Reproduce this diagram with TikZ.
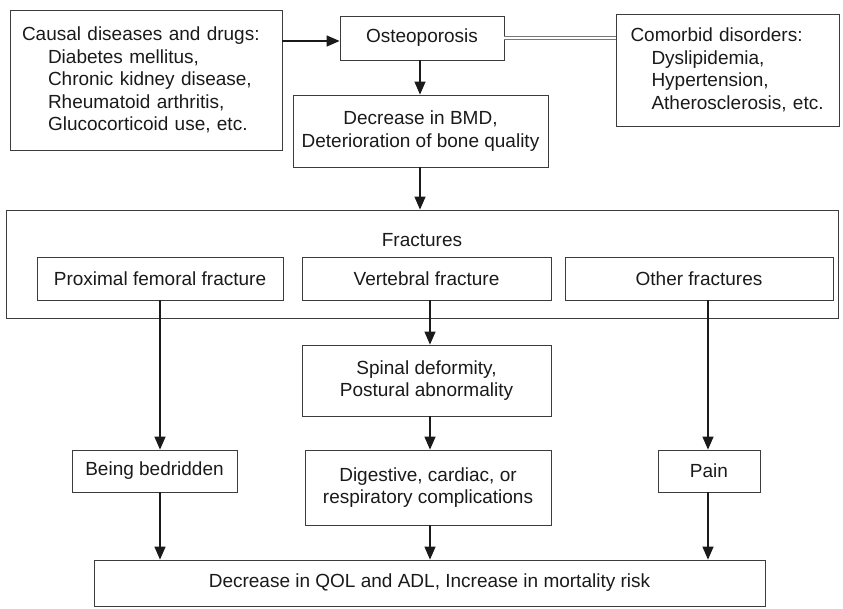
\documentclass[tikz,border=0pt]{standalone}
\usepackage{fontspec}
\setmainfont{Liberation Sans}
\usetikzlibrary{positioning, arrows.meta, calc}
\definecolor{ink}{HTML}{1a1a1a}
\definecolor{edge}{HTML}{3c3c3c}

\begin{document}
\begin{tikzpicture}[x=1pt, y=-1pt,
  font=\fontsize{19}{22.5}\selectfont,
  box/.style={rectangle, draw=edge, line width=0.8pt, inner sep=0pt, align=center, text=ink},
  arr/.style={-{Triangle[length=13pt, width=11pt]}, line width=1.3pt, draw=ink}]
  \useasboundingbox (0,0) rectangle (843,608);

  % Top row
  \node[box, minimum width=272pt, minimum height=140pt, align=left, text width=248pt] (causal) at (146,80)
    {Causal diseases and drugs:\\\hspace*{26pt}Diabetes mellitus,\\\hspace*{26pt}Chronic kidney disease,\\\hspace*{26pt}Rheumatoid arthritis,\\\hspace*{26pt}Glucocorticoid use, etc.};
  \node[box, minimum width=164pt, minimum height=44pt] (osteo) at (422,38) {Osteoporosis};
  \node[box, minimum width=223pt, minimum height=112pt, align=left, text width=194pt] (comorbid) at (727.5,70)
    {Comorbid disorders:\\\hspace*{21pt}Dyslipidemia,\\\hspace*{21pt}Hypertension,\\\hspace*{21pt}Atherosclerosis, etc.};
  \node[box, minimum width=255pt, minimum height=72pt] (bmd) at (420.5,131)
    {Decrease in BMD,\\Deterioration of bone quality};

  % Fractures
  \node[box, minimum width=832pt, minimum height=108pt] (fractures) at (422,264) {};
  \node[text=ink] (fraclabel) at (422,240) {Fractures};
  \node[box, minimum width=246pt, minimum height=43pt] (proximal) at (160,278.5) {Proximal femoral fracture};
  \node[box, minimum width=249pt, minimum height=43pt] (vertebral) at (426.5,278.5) {Vertebral fracture};
  \node[box, minimum width=268pt, minimum height=43pt] (other) at (699,278.5) {Other fractures};

  % Consequences
  \node[box, minimum width=249pt, minimum height=71pt] (spinal) at (426.5,380.5)
    {Spinal deformity,\\Postural abnormality};
  \node[box, minimum width=165pt, minimum height=42pt] (bedridden) at (154.5,471) {Being bedridden};
  \node[box, minimum width=246pt, minimum height=75pt] (digestive) at (428,487.5)
    {Digestive, cardiac, or\\respiratory complications};
  \node[box, minimum width=102pt, minimum height=42pt] (pain) at (709,471) {Pain};
  \node[box, minimum width=671pt, minimum height=46pt] (final) at (429.5,583)
    {Decrease in QOL and ADL, Increase in mortality risk};

  % Connectors
  \draw[arr] (osteo.west -| causal.east) ++(0,3) coordinate (cin) (cin) -- (cin -| osteo.west);
  \draw[edge!70, double, line width=0.7pt, double distance=2.6pt] (osteo.east) -- (osteo.east -| comorbid.west);
  \draw[arr] (osteo.south -| 420,0) -- (bmd.north -| 420,0);
  \draw[arr] (bmd.south -| 420,0) -- (fractures.north -| 420,0);
  \draw[arr] (proximal.south) -- (proximal.south |- bedridden.north);
  \draw[arr] (vertebral.south -| 430,0) -- (spinal.north -| 430,0);
  \draw[arr] (spinal.south -| 430,0) -- (digestive.north -| 430,0);
  \draw[arr] (other.south -| 708,0) -- (pain.north -| 708,0);
  \draw[arr] (bedridden.south -| proximal.south) -- (final.north -| proximal.south);
  \draw[arr] (digestive.south -| 430,0) -- (final.north -| 430,0);
  \draw[arr] (pain.south -| 708,0) -- (final.north -| 708,0);
\end{tikzpicture}
\end{document}
